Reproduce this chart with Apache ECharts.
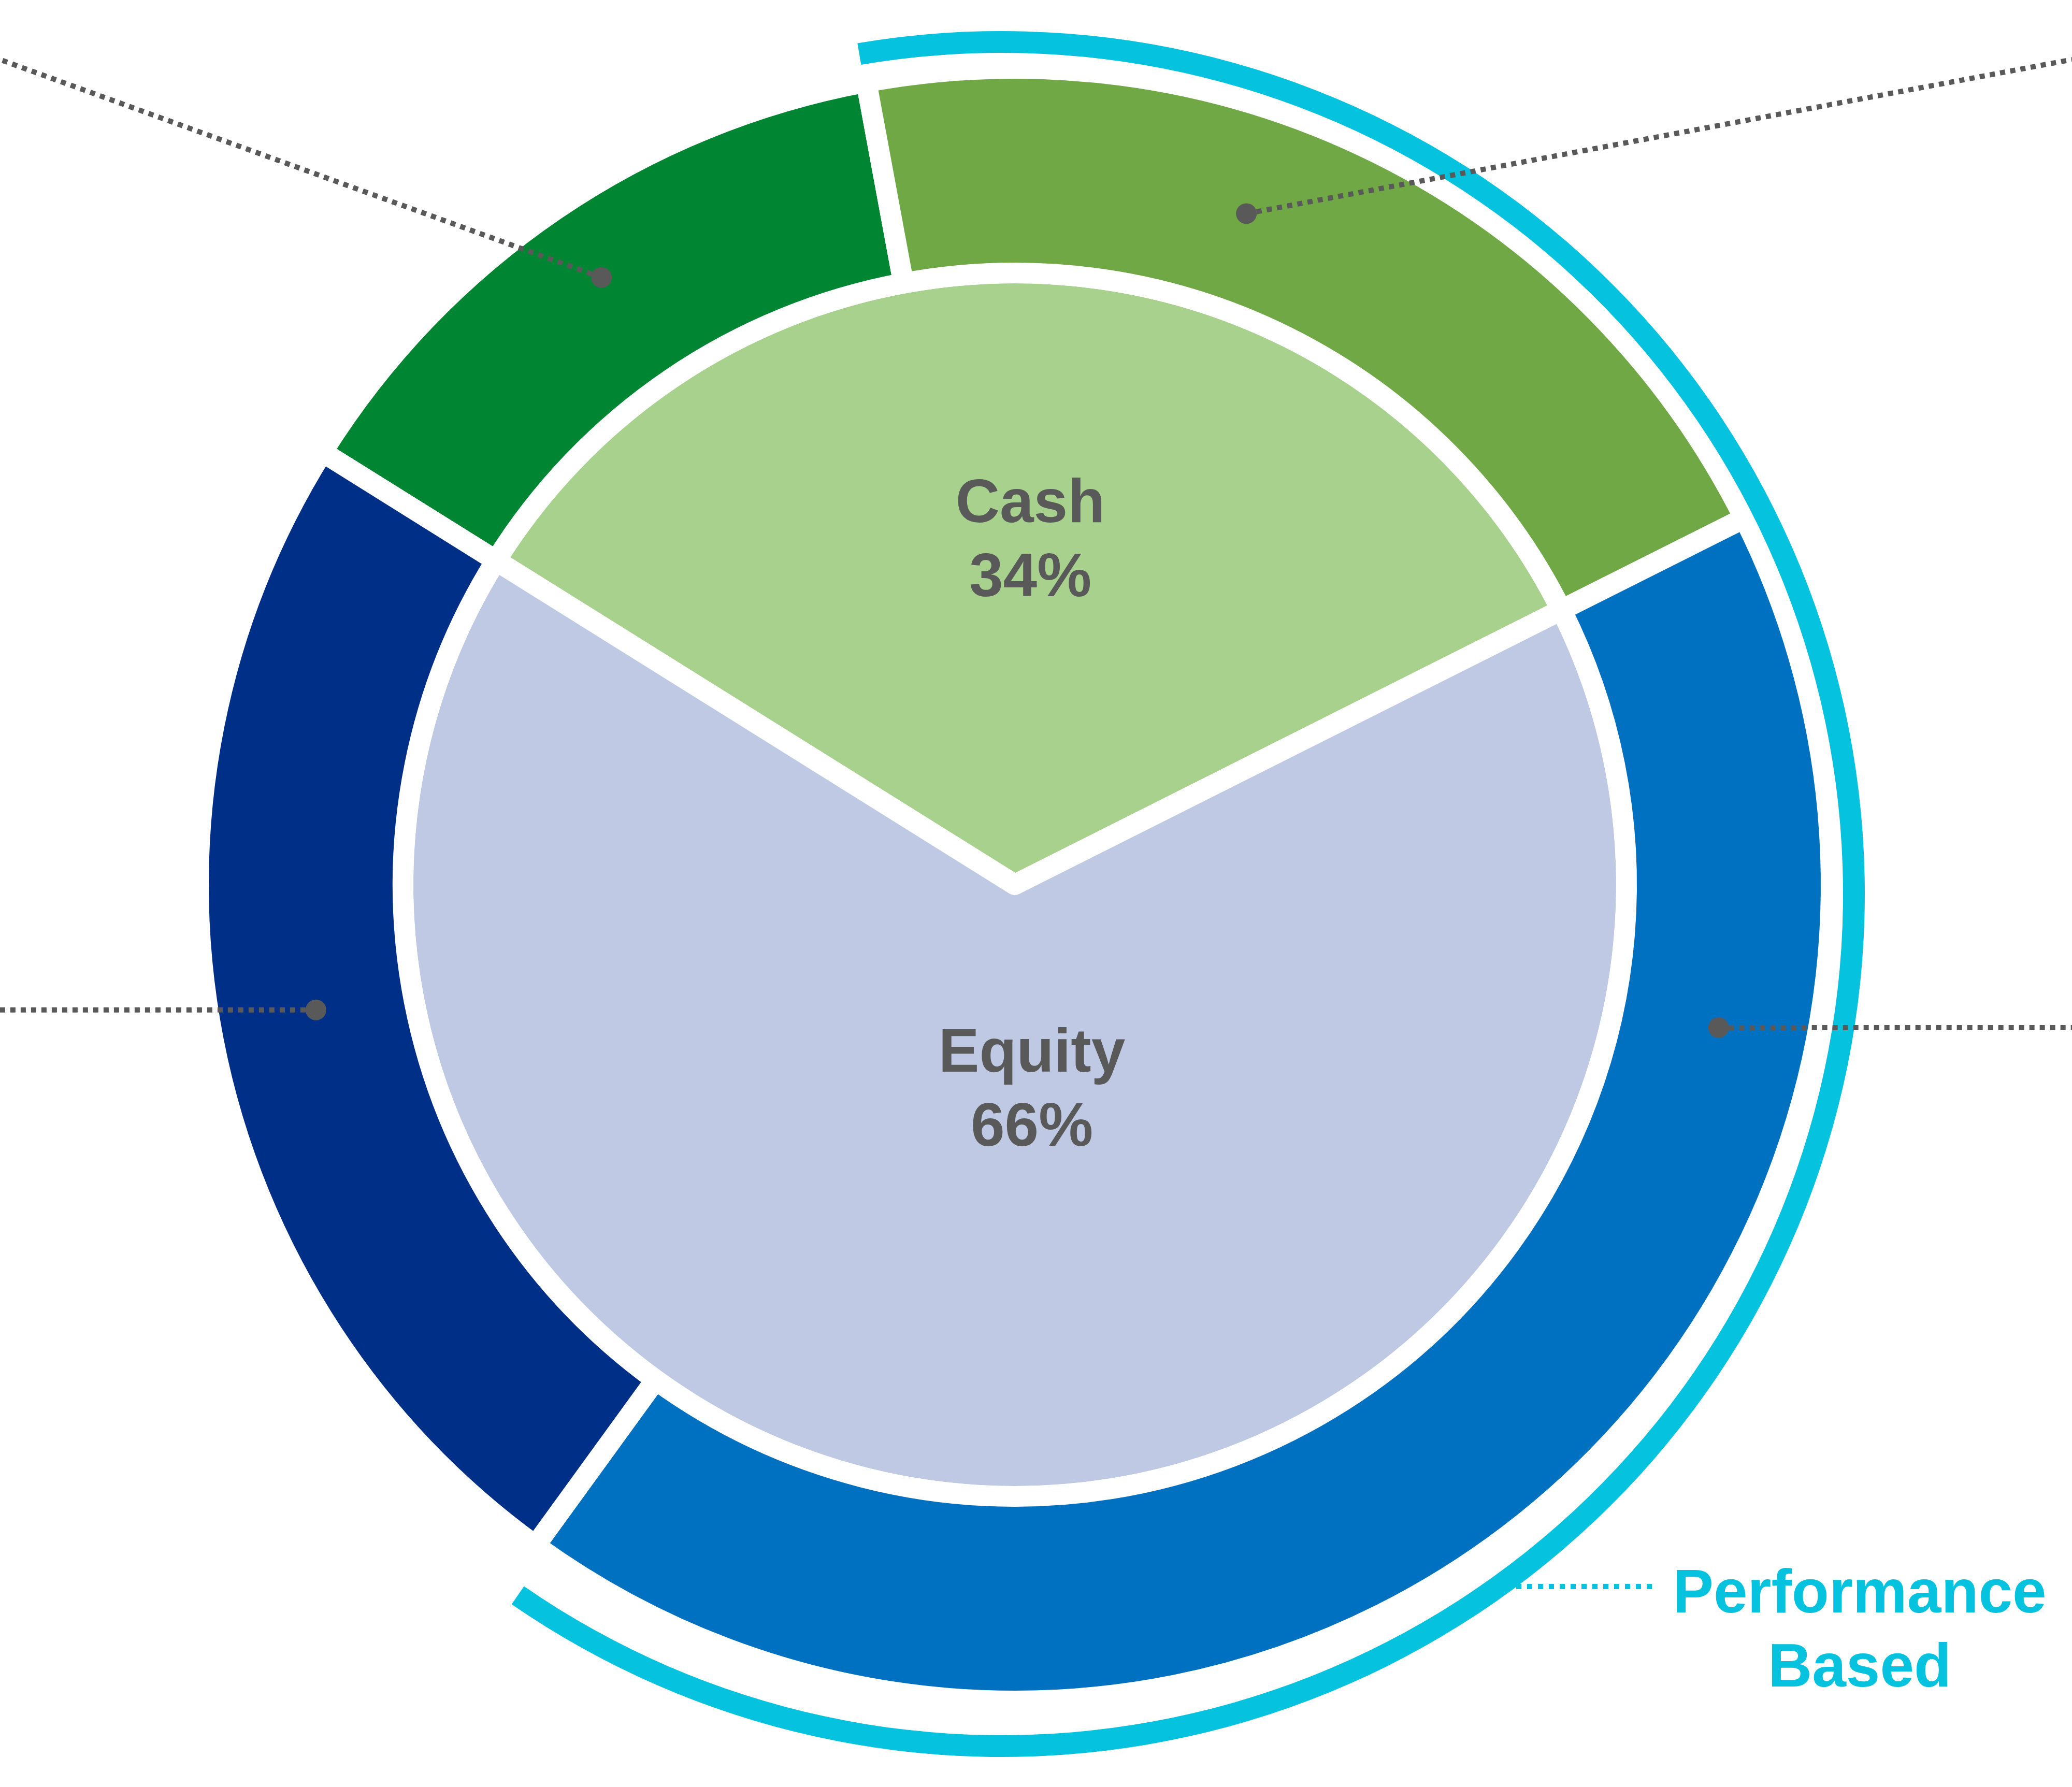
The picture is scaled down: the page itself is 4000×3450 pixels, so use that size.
<!DOCTYPE html>
<html>
<head>
<meta charset="utf-8">
<script src="https://cdn.jsdelivr.net/npm/echarts@6/dist/echarts.min.js"></script>
<style>
html,body{margin:0;padding:0;background:#ffffff;}
#chart{width:4000px;height:3450px;}
</style>
</head>
<body>
<div id="chart"></div>
<script>
// ---- data ----
const assetClasses = ['Cash', 'Equity'];
const assetShares = [33.7, 66.3];
const segmentNames = ['Cash (fixed)', 'Cash (performance based)', 'Equity (performance based)', 'Equity (fixed)'];
const segmentShares = [13.2, 20.5, 42.4, 23.9];
const performanceSegments = [1, 2];
const performanceLabel = 'Performance\nBased';

// ---- styling / layout ----
const CX = 1959, CY = 1708;
const START = 148;
const innerColors = ['#A9D18E', '#BFC9E3'];
const ringColors = ['#008533', '#70A845', '#0070C0', '#002F87'];
const CYAN = '#05C3DE';
const GREY = '#595959';
const FONT = '"Liberation Sans", Arial, Helvetica, sans-serif';
const labelOffsets = [[30, -661], [33, 400]];
const RING = [1181, 1576];
// the cyan bracket is drawn slightly off-centre in the original
const ARC_CENTER = [1934, 1726];
const ARC_RADIUS = [1624, 1666];
const ARC_START_SHIFT_DEG = -0.85;
const ARC_TRIM_DEG = 2.2;

const chart = echarts.init(document.getElementById('chart'), null, {renderer: 'canvas'});

const perfTotal = performanceSegments.reduce((s, i) => s + segmentShares[i], 0);
const trim = ARC_TRIM_DEG / 3.6;
const perfData = [
  {name: 'before', value: segmentShares[0], itemStyle: {color: 'rgba(0,0,0,0)'}},
  {name: 'Performance Based', value: perfTotal - trim, itemStyle: {color: CYAN}},
  {name: 'after', value: segmentShares[3] + trim, itemStyle: {color: 'rgba(0,0,0,0)'}}
];

chart.setOption({
  backgroundColor: '#ffffff',
  animation: false,
  series: [
    {
      type: 'pie', name: 'Asset class', center: [CX, CY], radius: [0, 1181],
      startAngle: START, clockwise: true, silent: true,
      emphasis: {disabled: true},
      itemStyle: {borderColor: '#ffffff', borderWidth: 40, borderJoin: 'round'},
      label: {
        show: true, position: 'inside',
        formatter: p => p.name + '\n' + Math.round(p.value) + '%',
        fontFamily: FONT, fontWeight: 'bold', fontSize: 118, lineHeight: 143, color: GREY
      },
      labelLine: {show: false},
      labelLayout: p => ({
        x: CX + labelOffsets[p.dataIndex][0],
        y: CY + labelOffsets[p.dataIndex][1],
        align: 'center', verticalAlign: 'middle'
      }),
      data: assetClasses.map((n, i) => ({name: n, value: assetShares[i], itemStyle: {color: innerColors[i]}}))
    },
    {
      type: 'pie', name: 'Segments', center: [CX, CY], radius: RING,
      startAngle: START, clockwise: true, silent: true,
      emphasis: {disabled: true},
      itemStyle: {borderColor: '#ffffff', borderWidth: 40},
      label: {show: false}, labelLine: {show: false},
      data: segmentNames.map((n, i) => ({name: n, value: segmentShares[i], itemStyle: {color: ringColors[i]}}))
    },
    {
      type: 'pie', name: 'Performance', center: ARC_CENTER, radius: ARC_RADIUS,
      startAngle: START + ARC_START_SHIFT_DEG, clockwise: true, silent: true,
      emphasis: {disabled: true},
      label: {show: false}, labelLine: {show: false},
      data: perfData
    }
  ]
});

// ---- leader lines anchored to the library's slice layout ----
const leaders = [
  {seg: 0, at: 0.5, rf: 0.60, to: [0, 115]},
  {seg: 1, at: 0.40, rf: 0.48, to: [4000, 115]},
  {seg: 2, at: 0.25, rf: 0.52, to: 'right'},
  {seg: 3, at: 0.51, rf: 0.48, to: 'left'}
];

function sliceLayout(i) {
  try {
    const d = chart.getModel().getSeriesByIndex(1).getData();
    const l = d.getItemLayout(i);
    if (l && isFinite(l.startAngle)) return l;
  } catch (e) {}
  const total = segmentShares.reduce((a, b) => a + b, 0);
  let a0 = -START * Math.PI / 180;
  for (let k = 0; k < i; k++) a0 += segmentShares[k] / total * Math.PI * 2;
  const a1 = a0 + segmentShares[i] / total * Math.PI * 2;
  return {startAngle: a0, endAngle: a1, r0: RING[0], r: RING[1], cx: CX, cy: CY};
}

const elements = [];
leaders.forEach(ld => {
  const l = sliceLayout(ld.seg);
  const ang = l.startAngle + ld.at * (l.endAngle - l.startAngle);
  const rr = l.r0 + ld.rf * (l.r - l.r0);
  const x = l.cx + rr * Math.cos(ang);
  const y = l.cy + rr * Math.sin(ang);
  let ex, ey;
  if (ld.to === 'left') { ex = 0; ey = y; }
  else if (ld.to === 'right') { ex = 4000; ey = y; }
  else { ex = ld.to[0]; ey = ld.to[1]; }
  elements.push({
    type: 'line', z: 100, silent: true,
    shape: {x1: x, y1: y, x2: ex, y2: ey},
    style: {stroke: GREY, lineWidth: 10, lineDash: [10, 10], lineCap: 'butt'}
  });
  elements.push({
    type: 'circle', z: 101, silent: true,
    shape: {cx: x, cy: y, r: 20},
    style: {fill: GREY}
  });
});

elements.push({
  type: 'line', z: 100, silent: true,
  shape: {x1: 2927, y1: 3063, x2: 3197, y2: 3063},
  style: {stroke: CYAN, lineWidth: 10, lineDash: [10, 11], lineCap: 'butt'}
});
elements.push({
  type: 'text', z: 100, silent: true,
  style: {
    text: performanceLabel, x: 3590, y: 3152, align: 'center', verticalAlign: 'middle',
    fontFamily: FONT, fontWeight: 'bold', fontSize: 118, lineHeight: 143, fill: CYAN
  }
});

chart.setOption({graphic: {elements: elements}});
</script>
</body>
</html>
